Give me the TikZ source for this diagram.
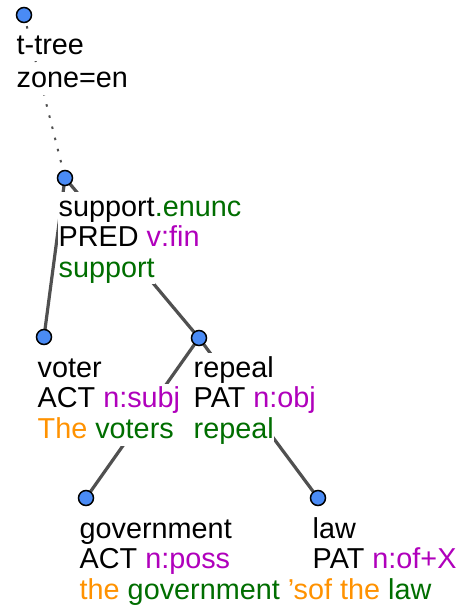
\documentclass[tikz,border=0pt]{standalone}
\usepackage{fontspec}
\setmainfont{Liberation Sans}
\definecolor{tgreen}{HTML}{006E00}
\definecolor{tmag}{HTML}{B000BC}
\definecolor{torange}{HTML}{FF9200}
\definecolor{tblue}{HTML}{4A8BF5}
\definecolor{tedge}{HTML}{505050}
\begin{document}
\begin{tikzpicture}[x=1pt,y=-1pt,
  row/.style={anchor=base west, fill=white, inner xsep=0.5pt, inner ysep=0pt,
    text height=24pt, text depth=7pt, font=\fontsize{28.8}{30}\selectfont},
  edge/.style={draw=tedge, line width=3.2pt},
  rootedge/.style={draw=tedge, line width=2pt, dash pattern=on 2.5pt off 9pt},
  dot/.style={circle, draw=black, line width=1.5pt, fill=tblue, minimum size=15pt, inner sep=0pt}]
\useasboundingbox (0,0) rectangle (472,613);
% node positions
\coordinate (p0) at (24,15);
\coordinate (p1) at (65,178);
\coordinate (p2) at (44,337);
\coordinate (p3) at (199,338);
\coordinate (p4) at (86,498);
\coordinate (p5) at (318,498);
% edges
\draw[rootedge] (p0) -- (p1);
\draw[edge] (p1) -- (p2);
\draw[edge] (p1) -- (p3);
\draw[edge] (p3) -- (p4);
\draw[edge] (p3) -- (p5);
% labels
\node[row] (t0a) at (16,54.3) {t-tree};
\node[row] (t0b) at (16,87.5) {zone=en};
\node[row] (t1a) at (58,216) {support\textcolor{tgreen}{.enunc}};
\node[row] (t1b) at (58,246.5) {PRED \textcolor{tmag}{v:fin}};
\node[row] (t1c) at (58,277) {\textcolor{tgreen}{support}};
\node[row] (t2a) at (37,377) {voter};
\node[row] (t2b) at (37,407.5) {ACT \textcolor{tmag}{n:subj}};
\node[row] (t2c) at (37,438.5) {\textcolor{torange}{The} \textcolor{tgreen}{voters}};
\node[row] (t3a) at (193,377) {repeal};
\node[row] (t3b) at (193,407.5) {PAT \textcolor{tmag}{n:obj}};
\node[row] (t3c) at (193,438.5) {\textcolor{tgreen}{repeal}};
\node[row] (t4a) at (79,538) {government};
\node[row] (t4b) at (79,568.5) {ACT \textcolor{tmag}{n:poss}};
\node[row] (t4c) at (79,599.5) {\textcolor{torange}{the} \textcolor{tgreen}{government} \textcolor{torange}{\char"27 sof the} \textcolor{tgreen}{law}};
\node[row] (t5a) at (312,538) {law};
\node[row] (t5b) at (312,568.5) {PAT \textcolor{tmag}{n:of+X}};
% circles
\node[dot] (n0) at (p0) {};
\node[dot] (n1) at (p1) {};
\node[dot] (n2) at (p2) {};
\node[dot] (n3) at (p3) {};
\node[dot] (n4) at (p4) {};
\node[dot] (n5) at (p5) {};
\end{tikzpicture}
\end{document}
